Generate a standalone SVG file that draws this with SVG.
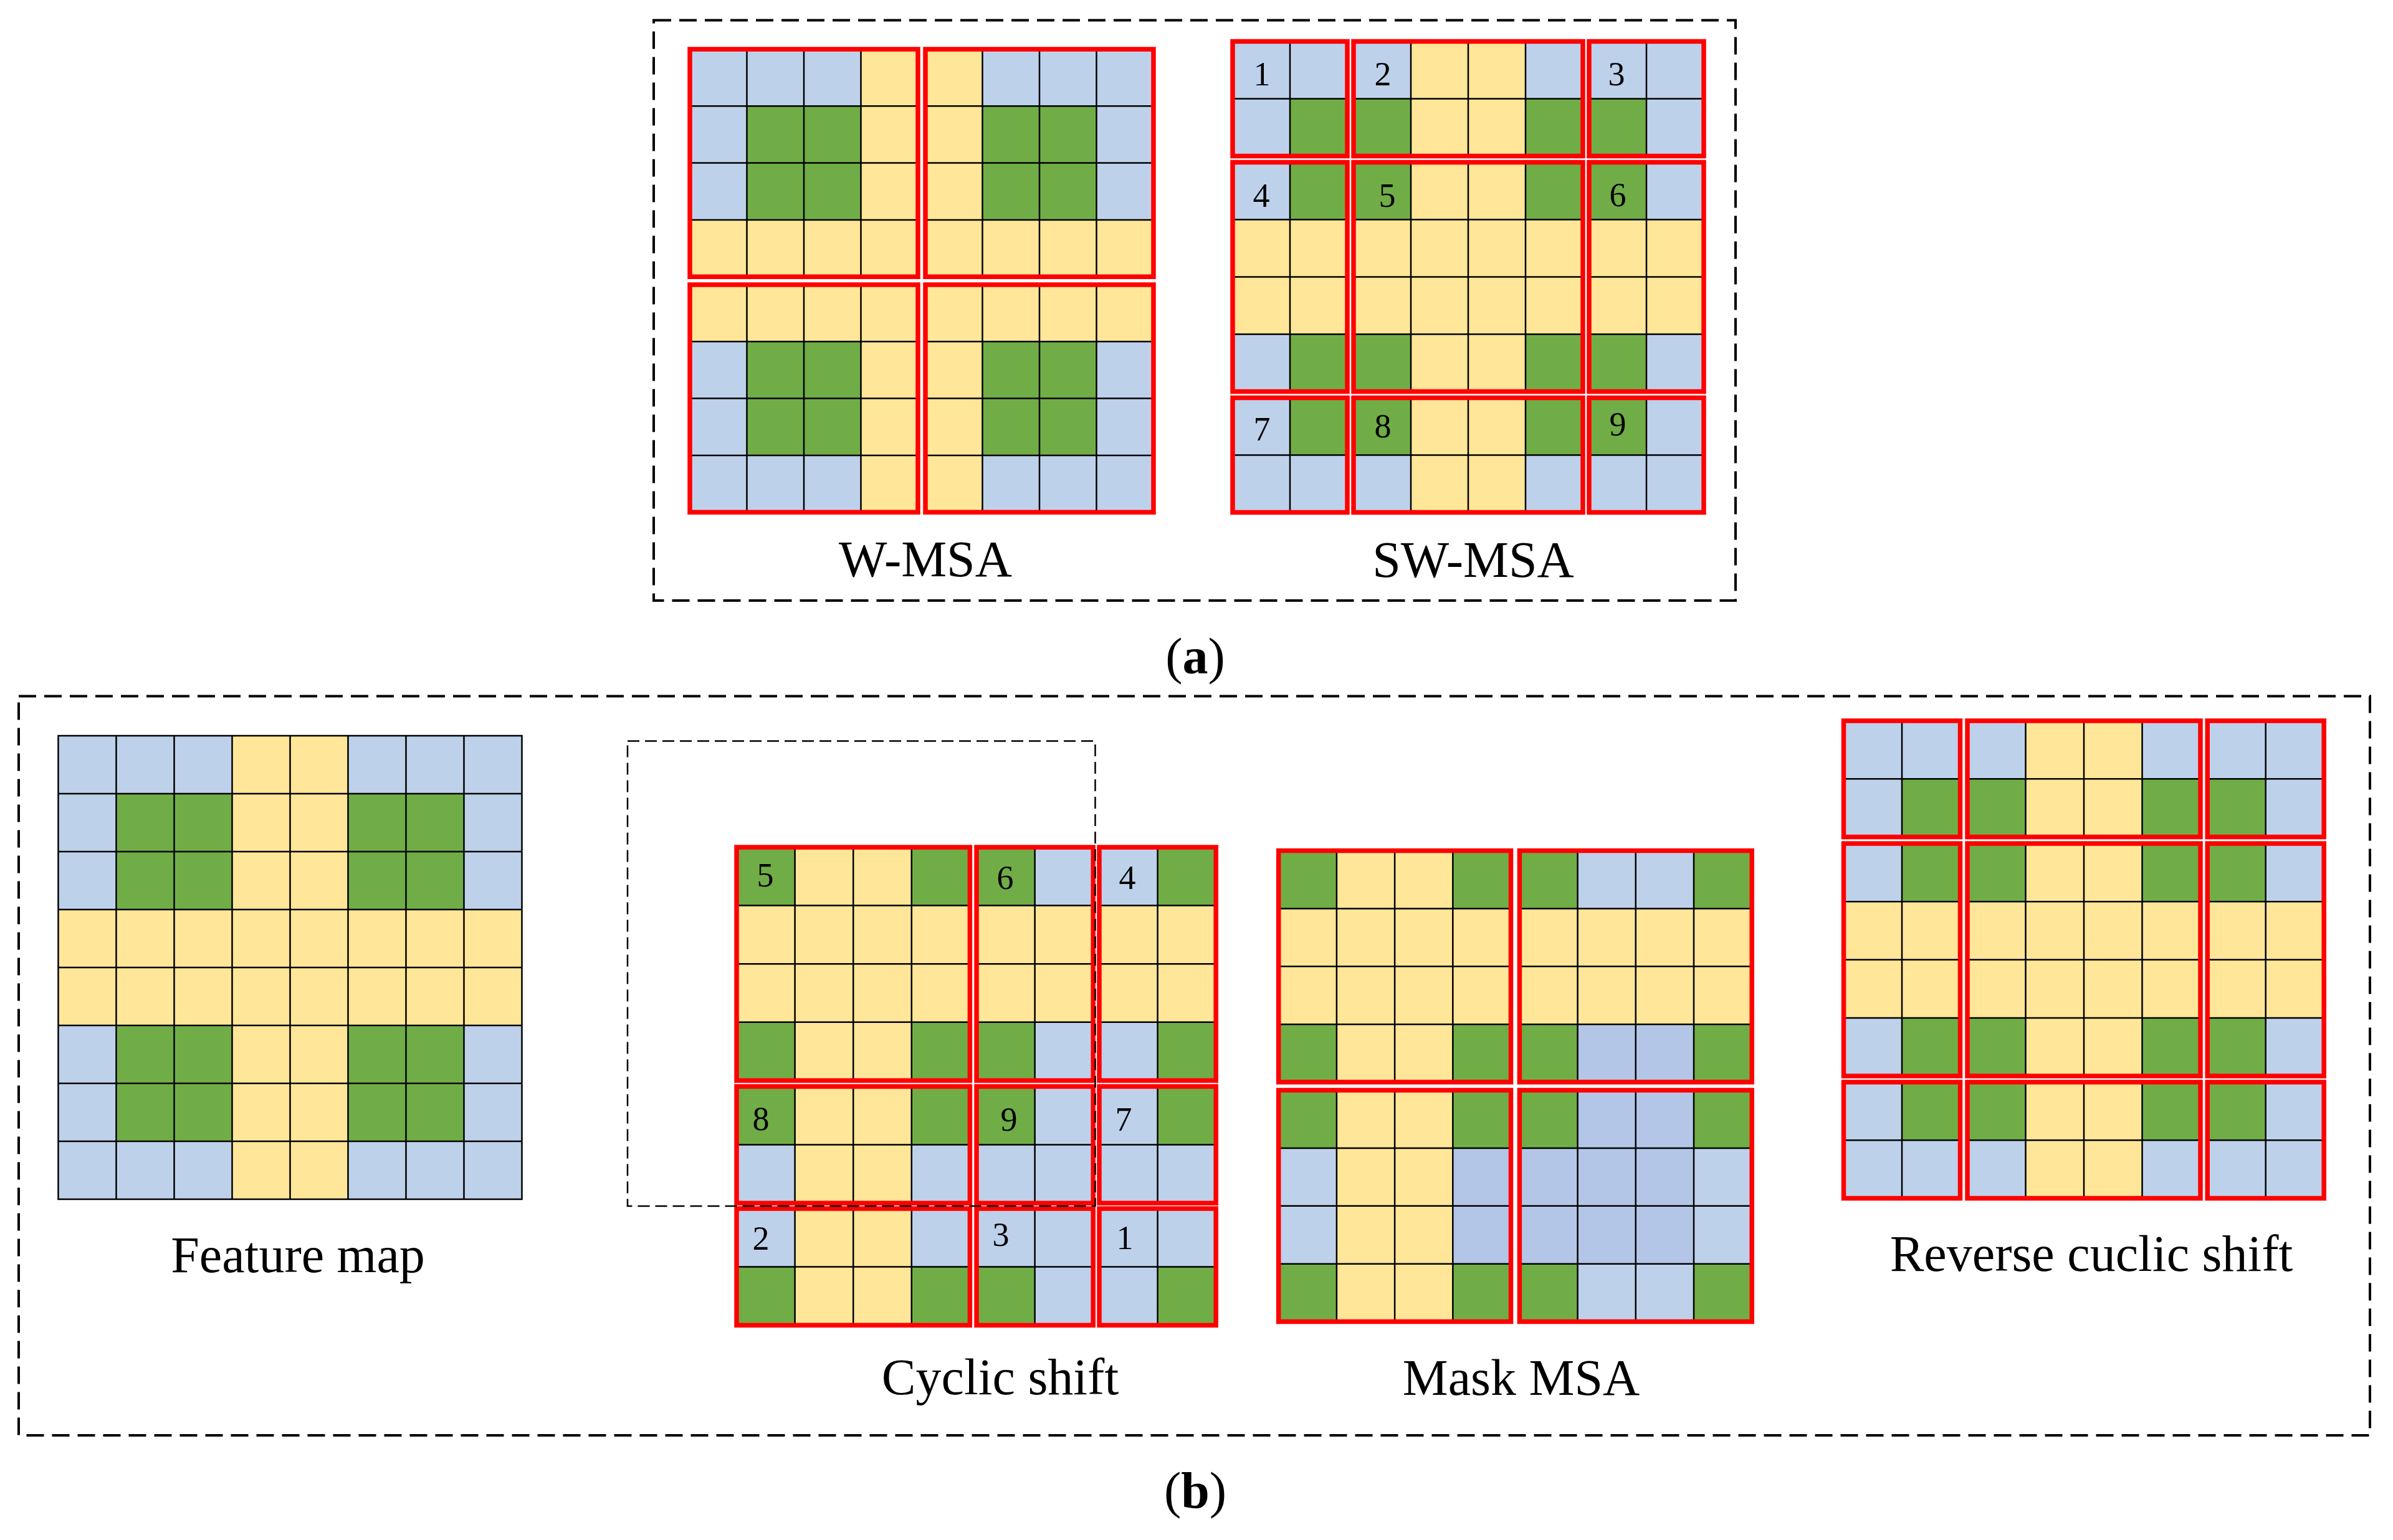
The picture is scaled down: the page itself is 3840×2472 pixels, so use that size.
<svg xmlns="http://www.w3.org/2000/svg" xmlns:xlink="http://www.w3.org/1999/xlink" width="3840" height="2472" viewBox="0 0 3840 2472">
<style>
.b{fill:#BED1EA}
.d{fill:#B4C6E7}
.g{fill:#70AD47}
.y{fill:#FFE699}
.gl{fill:none;stroke:#000;stroke-width:2.5;vector-effect:non-scaling-stroke}
.rw{fill:none;stroke:#FF0000;stroke-width:7.5;vector-effect:non-scaling-stroke}
.dash{fill:none;stroke:#000;stroke-width:4;stroke-dasharray:28 13}
.dash2{fill:none;stroke:#000;stroke-width:2.5;stroke-dasharray:19 9}
.t{font-family:"Liberation Serif","Times New Roman",serif;font-size:82px;fill:#000;text-anchor:middle}
.n{font-family:"Liberation Serif","Times New Roman",serif;font-size:54px;fill:#000;text-anchor:middle}
</style>
<defs>
<!-- W-MSA windows -->
<g id="wa"><rect class="y" width="4" height="4"/><rect class="b" width="3" height="1"/><rect class="b" y="1" width="1" height="2"/><rect class="g" x="1" y="1" width="2" height="2"/><path class="gl" d="M1 0V4M2 0V4M3 0V4M0 1H4M0 2H4M0 3H4"/><rect class="rw" width="4" height="4"/></g>
<g id="wb"><rect class="y" width="4" height="4"/><rect class="b" x="1" width="3" height="1"/><rect class="b" x="3" y="1" width="1" height="2"/><rect class="g" x="1" y="1" width="2" height="2"/><path class="gl" d="M1 0V4M2 0V4M3 0V4M0 1H4M0 2H4M0 3H4"/><rect class="rw" width="4" height="4"/></g>
<g id="wc"><rect class="y" width="4" height="4"/><rect class="b" y="1" width="1" height="3"/><rect class="b" x="1" y="3" width="2" height="1"/><rect class="g" x="1" y="1" width="2" height="2"/><path class="gl" d="M1 0V4M2 0V4M3 0V4M0 1H4M0 2H4M0 3H4"/><rect class="rw" width="4" height="4"/></g>
<g id="wd"><rect class="y" width="4" height="4"/><rect class="b" x="3" y="1" width="1" height="3"/><rect class="b" x="1" y="3" width="2" height="1"/><rect class="g" x="1" y="1" width="2" height="2"/><path class="gl" d="M1 0V4M2 0V4M3 0V4M0 1H4M0 2H4M0 3H4"/><rect class="rw" width="4" height="4"/></g>
<!-- shifted windows 1..9 -->
<g id="w1"><rect class="b" width="2" height="2"/><rect class="g" x="1" y="1" width="1" height="1"/><path class="gl" d="M1 0V2M0 1H2"/><rect class="rw" width="2" height="2"/></g>
<g id="w2"><rect class="y" width="4" height="2"/><rect class="b" width="1" height="1"/><rect class="b" x="3" width="1" height="1"/><rect class="g" y="1" width="1" height="1"/><rect class="g" x="3" y="1" width="1" height="1"/><path class="gl" d="M1 0V2M2 0V2M3 0V2M0 1H4"/><rect class="rw" width="4" height="2"/></g>
<g id="w3"><rect class="b" width="2" height="2"/><rect class="g" y="1" width="1" height="1"/><path class="gl" d="M1 0V2M0 1H2"/><rect class="rw" width="2" height="2"/></g>
<g id="w4"><rect class="y" width="2" height="4"/><rect class="b" width="1" height="1"/><rect class="g" x="1" width="1" height="1"/><rect class="b" y="3" width="1" height="1"/><rect class="g" x="1" y="3" width="1" height="1"/><path class="gl" d="M1 0V4M0 1H2M0 2H2M0 3H2"/><rect class="rw" width="2" height="4"/></g>
<g id="w5"><rect class="y" width="4" height="4"/><rect class="g" width="1" height="1"/><rect class="g" x="3" width="1" height="1"/><rect class="g" y="3" width="1" height="1"/><rect class="g" x="3" y="3" width="1" height="1"/><path class="gl" d="M1 0V4M2 0V4M3 0V4M0 1H4M0 2H4M0 3H4"/><rect class="rw" width="4" height="4"/></g>
<g id="w6"><rect class="y" width="2" height="4"/><rect class="g" width="1" height="1"/><rect class="b" x="1" width="1" height="1"/><rect class="g" y="3" width="1" height="1"/><rect class="b" x="1" y="3" width="1" height="1"/><path class="gl" d="M1 0V4M0 1H2M0 2H2M0 3H2"/><rect class="rw" width="2" height="4"/></g>
<g id="w7"><rect class="b" width="2" height="2"/><rect class="g" x="1" width="1" height="1"/><path class="gl" d="M1 0V2M0 1H2"/><rect class="rw" width="2" height="2"/></g>
<g id="w8"><rect class="y" width="4" height="2"/><rect class="g" width="1" height="1"/><rect class="g" x="3" width="1" height="1"/><rect class="b" y="1" width="1" height="1"/><rect class="b" x="3" y="1" width="1" height="1"/><path class="gl" d="M1 0V2M2 0V2M3 0V2M0 1H4"/><rect class="rw" width="4" height="2"/></g>
<g id="w9"><rect class="b" width="2" height="2"/><rect class="g" width="1" height="1"/><path class="gl" d="M1 0V2M0 1H2"/><rect class="rw" width="2" height="2"/></g>
<!-- mask windows -->
<g id="m2"><rect class="y" width="4" height="4"/><rect class="g" width="1" height="1"/><rect class="g" x="3" width="1" height="1"/><rect class="g" y="3" width="1" height="1"/><rect class="g" x="3" y="3" width="1" height="1"/><rect class="b" x="1" width="2" height="1"/><rect class="d" x="1" y="3" width="2" height="1"/><path class="gl" d="M1 0V4M2 0V4M3 0V4M0 1H4M0 2H4M0 3H4"/><rect class="rw" width="4" height="4"/></g>
<g id="m3"><rect class="y" width="4" height="4"/><rect class="g" width="1" height="1"/><rect class="g" x="3" width="1" height="1"/><rect class="g" y="3" width="1" height="1"/><rect class="g" x="3" y="3" width="1" height="1"/><rect class="b" y="1" width="1" height="2"/><rect class="d" x="3" y="1" width="1" height="2"/><path class="gl" d="M1 0V4M2 0V4M3 0V4M0 1H4M0 2H4M0 3H4"/><rect class="rw" width="4" height="4"/></g>
<g id="m4"><rect class="d" width="4" height="4"/><rect class="g" width="1" height="1"/><rect class="g" x="3" width="1" height="1"/><rect class="g" y="3" width="1" height="1"/><rect class="g" x="3" y="3" width="1" height="1"/><rect class="b" x="3" y="1" width="1" height="2"/><rect class="b" x="1" y="3" width="2" height="1"/><path class="gl" d="M1 0V4M2 0V4M3 0V4M0 1H4M0 2H4M0 3H4"/><rect class="rw" width="4" height="4"/></g>
</defs>
<rect width="3840" height="2472" fill="#fff"/>

<g id="panel-a-frame"><rect class="dash" x="1049" y="32.5" width="1736" height="931.5"/></g>

<g id="w-msa">
<use xlink:href="#wa" href="#wa" transform="translate(1107 79) scale(91.5 91.3)"/>
<use xlink:href="#wb" href="#wb" transform="translate(1485 79) scale(91.5 91.3)"/>
<use xlink:href="#wc" href="#wc" transform="translate(1107 457) scale(91.5 91.3)"/>
<use xlink:href="#wd" href="#wd" transform="translate(1485 457) scale(91.5 91.3)"/>
<text class="t" x="1485" y="925">W-MSA</text>
</g>

<g id="sw-msa">
<use xlink:href="#w1" href="#w1" transform="translate(1978 66.5) scale(92)"/>
<use xlink:href="#w2" href="#w2" transform="translate(2172 66.5) scale(92)"/>
<use xlink:href="#w3" href="#w3" transform="translate(2550 66.5) scale(92)"/>
<use xlink:href="#w4" href="#w4" transform="translate(1978 260.5) scale(92)"/>
<use xlink:href="#w5" href="#w5" transform="translate(2172 260.5) scale(92)"/>
<use xlink:href="#w6" href="#w6" transform="translate(2550 260.5) scale(92)"/>
<use xlink:href="#w7" href="#w7" transform="translate(1978 638.5) scale(92)"/>
<use xlink:href="#w8" href="#w8" transform="translate(2172 638.5) scale(92)"/>
<use xlink:href="#w9" href="#w9" transform="translate(2550 638.5) scale(92)"/>
<text class="n" x="2025" y="137">1</text>
<text class="n" x="2219" y="137">2</text>
<text class="n" x="2594" y="137">3</text>
<text class="n" x="2024" y="332">4</text>
<text class="n" x="2226" y="332">5</text>
<text class="n" x="2596" y="331">6</text>
<text class="n" x="2025" y="707">7</text>
<text class="n" x="2219" y="702">8</text>
<text class="n" x="2596" y="699">9</text>
<text class="t" x="2364" y="926">SW-MSA</text>
</g>

<g id="label-a"><text class="t" x="1918" y="1081">(<tspan font-weight="bold">a</tspan>)</text></g>

<g id="panel-b-frame"><rect class="dash" x="30" y="1117.5" width="3773" height="1186.5"/></g>

<g id="feature-map">
<g transform="translate(93.5 1181) scale(93)">
<rect class="y" width="8" height="8"/>
<rect class="b" width="3" height="1"/><rect class="b" x="5" width="3" height="1"/>
<rect class="b" y="1" width="1" height="2"/><rect class="b" x="7" y="1" width="1" height="2"/>
<rect class="g" x="1" y="1" width="2" height="2"/><rect class="g" x="5" y="1" width="2" height="2"/>
<rect class="b" y="5" width="1" height="2"/><rect class="b" x="7" y="5" width="1" height="2"/>
<rect class="g" x="1" y="5" width="2" height="2"/><rect class="g" x="5" y="5" width="2" height="2"/>
<rect class="b" y="7" width="3" height="1"/><rect class="b" x="5" y="7" width="3" height="1"/>
<path class="gl" d="M1 0V8M2 0V8M3 0V8M4 0V8M5 0V8M6 0V8M7 0V8M0 1H8M0 2H8M0 3H8M0 4H8M0 5H8M0 6H8M0 7H8"/>
<rect class="gl" width="8" height="8"/>
</g>
<text class="t" x="478" y="2042">Feature map</text>
</g>

<g id="cyclic-shift">
<use xlink:href="#w5" href="#w5" transform="translate(1182 1360) scale(93.6)"/>
<use xlink:href="#w6" href="#w6" transform="translate(1567 1360) scale(93.6)"/>
<use xlink:href="#w4" href="#w4" transform="translate(1764 1360) scale(93.6)"/>
<use xlink:href="#w8" href="#w8" transform="translate(1182 1744) scale(93.6)"/>
<use xlink:href="#w9" href="#w9" transform="translate(1567 1744) scale(93.6)"/>
<use xlink:href="#w7" href="#w7" transform="translate(1764 1744) scale(93.6)"/>
<use xlink:href="#w2" href="#w2" transform="translate(1182 1940) scale(93.6)"/>
<use xlink:href="#w3" href="#w3" transform="translate(1567 1940) scale(93.6)"/>
<use xlink:href="#w1" href="#w1" transform="translate(1764 1940) scale(93.6)"/>
<text class="n" x="1228" y="1423">5</text>
<text class="n" x="1613" y="1427">6</text>
<text class="n" x="1809" y="1427">4</text>
<text class="n" x="1221" y="1814">8</text>
<text class="n" x="1619" y="1815">9</text>
<text class="n" x="1803" y="1815">7</text>
<text class="n" x="1221" y="2006">2</text>
<text class="n" x="1606" y="2000">3</text>
<text class="n" x="1805" y="2005">1</text>
<rect class="dash2" x="1007" y="1189.5" width="750.5" height="746.5"/>
<text class="t" x="1605" y="2238">Cyclic shift</text>
</g>

<g id="mask-msa">
<use xlink:href="#w5" href="#w5" transform="translate(2051.7 1365.5) scale(93.2 92.9)"/>
<use xlink:href="#m2" href="#m2" transform="translate(2438.4 1365.5) scale(93.2 92.9)"/>
<use xlink:href="#m3" href="#m3" transform="translate(2051.7 1750) scale(93.2 92.9)"/>
<use xlink:href="#m4" href="#m4" transform="translate(2438.4 1750) scale(93.2 92.9)"/>
<text class="t" x="2441" y="2239">Mask MSA</text>
</g>

<g id="reverse-cyclic-shift">
<use xlink:href="#w1" href="#w1" transform="translate(2958.5 1157) scale(93.5 93.3)"/>
<use xlink:href="#w2" href="#w2" transform="translate(3157 1157) scale(93.5 93.3)"/>
<use xlink:href="#w3" href="#w3" transform="translate(3542.2 1157) scale(93.5 93.3)"/>
<use xlink:href="#w4" href="#w4" transform="translate(2958.5 1354) scale(93.5 93.3)"/>
<use xlink:href="#w5" href="#w5" transform="translate(3157 1354) scale(93.5 93.3)"/>
<use xlink:href="#w6" href="#w6" transform="translate(3542.2 1354) scale(93.5 93.3)"/>
<use xlink:href="#w7" href="#w7" transform="translate(2958.5 1737) scale(93.5 93.3)"/>
<use xlink:href="#w8" href="#w8" transform="translate(3157 1737) scale(93.5 93.3)"/>
<use xlink:href="#w9" href="#w9" transform="translate(3542.2 1737) scale(93.5 93.3)"/>
<text class="t" x="3356" y="2040">Reverse cuclic shift</text>
</g>

<g id="label-b"><text class="t" x="1918" y="2420">(<tspan font-weight="bold">b</tspan>)</text></g>

<g id="connectors"></g>
</svg>
